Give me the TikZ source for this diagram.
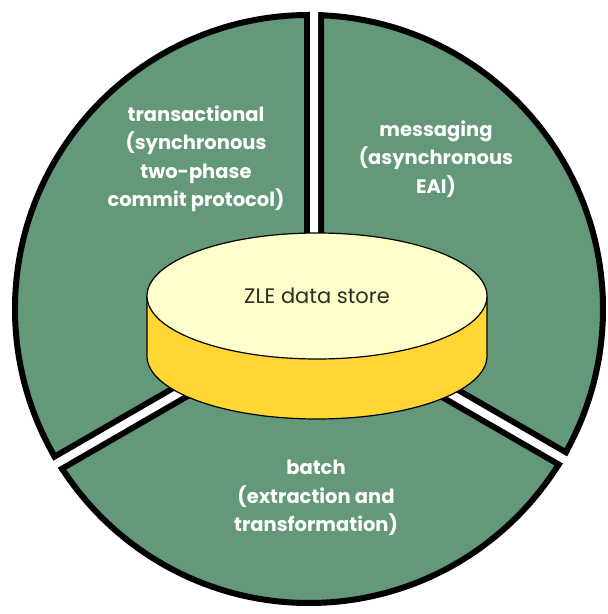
\documentclass[tikz,border=0pt]{standalone}
\usepackage{fontspec}
\setmainfont{Poppins}
\usetikzlibrary{calc}
\definecolor{sectorgreen}{RGB}{99,152,121}
\definecolor{disctop}{RGB}{255,255,204}
\definecolor{discside}{RGB}{255,214,51}
\definecolor{storeink}{RGB}{45,45,40}
\begin{document}
\begin{tikzpicture}[x=1pt,y=1pt,
  sectortext/.style={text=white,font=\fontsize{19.5}{28.5}\selectfont\bfseries,align=center,inner sep=0pt},
  storetext/.style={text=storeink,font=\fontsize{21}{24}\selectfont,inner sep=0pt},
  rim/.style={line width=6pt,draw=black},
  gapline/.style={line width=8pt,draw=white},
  discline/.style={line width=1.2pt,draw=black}]
\useasboundingbox (0,0) rectangle (608,614);
\fill[white] (0,0) rectangle (608,614);

% the ring of three sectors
\coordinate (C) at (309,305);
\coordinate (P) at (314,299);
\fill[sectorgreen] (C) circle[radius=294];
\begin{scope}
  \clip (C) circle[radius=297];
  \draw[line width=20pt] (P) -- ++(90:400) (P) -- ++(210:400) (P) -- ++(330:400);
\end{scope}
\draw[rim] (C) circle[radius=294];
\draw[gapline] (P) -- ++(90:340) (P) -- ++(210:340) (P) -- ++(330:340);

% the data store cylinder
\coordinate (T) at (317,318);
\filldraw[fill=discside,discline] ($(T)+(-170,0)$) -- ++(0,-60)
  arc[start angle=180,end angle=360,x radius=170,y radius=63] -- ++(0,60);
\filldraw[fill=disctop,discline] (T) ellipse[x radius=170,y radius=63];
\node[storetext] (store) at (T) {ZLE data store};

% sector labels
\node[sectortext] (trans) at (196,455) {transactional\\(synchronous\\two-phase\\commit protocol)};
\node[sectortext] (msg) at (436,455) {messaging\\(asynchronous\\EAI)};
\node[sectortext] (batch) at (316,116) {batch\\(extraction and\\transformation)};
\end{tikzpicture}
\end{document}
